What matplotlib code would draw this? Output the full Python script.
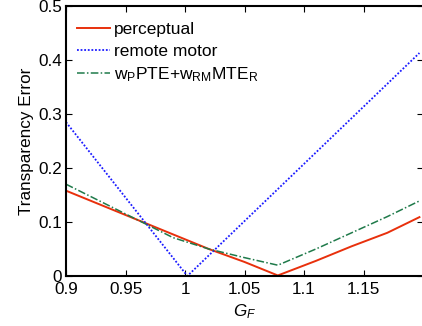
import numpy as np
import matplotlib
matplotlib.use("Agg")
import matplotlib.pyplot as plt

# values
gf_perc = [0.9, 0.93, 0.96, 0.99, 1.02, 1.05, 1.078, 1.11, 1.14, 1.17, 1.197]
perceptual = [0.158, 0.131, 0.104, 0.077, 0.050, 0.026, 0.001, 0.028, 0.055, 0.080, 0.109]

gf_motor = [0.9, 1.002, 1.197]
remote_motor = [0.285, 0.0, 0.413]

gf_mix = [0.9, 0.93, 0.96, 0.99, 1.02, 1.05, 1.078, 1.11, 1.14, 1.17, 1.197]
mixed = [0.170, 0.137, 0.104, 0.071, 0.050, 0.034, 0.020, 0.050, 0.080, 0.110, 0.139]

xticks = [0.9, 0.95, 1.0, 1.05, 1.1, 1.15]
xticklabels = ["0.9", "0.95", "1", "1.05", "1.1", "1.15"]
yticks = [0, 0.1, 0.2, 0.3, 0.4, 0.5]
yticklabels = ["0", "0.1", "0.2", "0.3", "0.4", "0.5"]

plt.rcParams["font.family"] = ["Liberation Sans", "DejaVu Sans"]
plt.rcParams["mathtext.fontset"] = "custom"
plt.rcParams["mathtext.rm"] = "Liberation Sans"
plt.rcParams["mathtext.it"] = "Liberation Sans:italic"

fig = plt.figure(figsize=(4.22, 3.26), dpi=100)
ax = fig.add_axes([66 / 422, 50 / 326, 357 / 422, 270 / 326])

ax.plot(gf_perc, perceptual, color="#e8300c", linewidth=1.4, label="perceptual")
ax.plot(gf_motor, remote_motor, color="#1a1aff", linestyle=(0, (1, 1)), linewidth=1.3,
        label="remote motor")
ax.plot(gf_mix, mixed, color="#1f7a4a", linestyle=(0, (5, 1.5, 1, 1.5)), linewidth=1.1,
        label=r"w$_{\mathrm{P}}$PTE+w$_{\mathrm{RM}}$MTE$_{\mathrm{R}}$")

ax.set_xlim(0.9, 1.2)
ax.set_ylim(0, 0.5)
ax.set_xticks(xticks)
ax.set_xticklabels(xticklabels)
ax.set_yticks(yticks)
ax.set_yticklabels(yticklabels)
ax.tick_params(direction="in", top=True, right=True, labelsize=12.3, length=4, width=0.8)
ax.tick_params(axis="x", pad=4)
ax.tick_params(axis="y", pad=3)
for s in ax.spines.values():
    s.set_linewidth(1.5)

ax.set_xlabel(r"$G_F$", fontsize=12.3, labelpad=4)
ax.set_ylabel("Transparency Error", fontsize=12.3, labelpad=3)

ax.legend(loc="upper left", bbox_to_anchor=(0.031, 0.941), frameon=False, fontsize=12.5,
          handlelength=1.9, borderaxespad=0, borderpad=0, labelspacing=0.38,
          handletextpad=0.25)

fig.savefig("out.png", dpi=100)
